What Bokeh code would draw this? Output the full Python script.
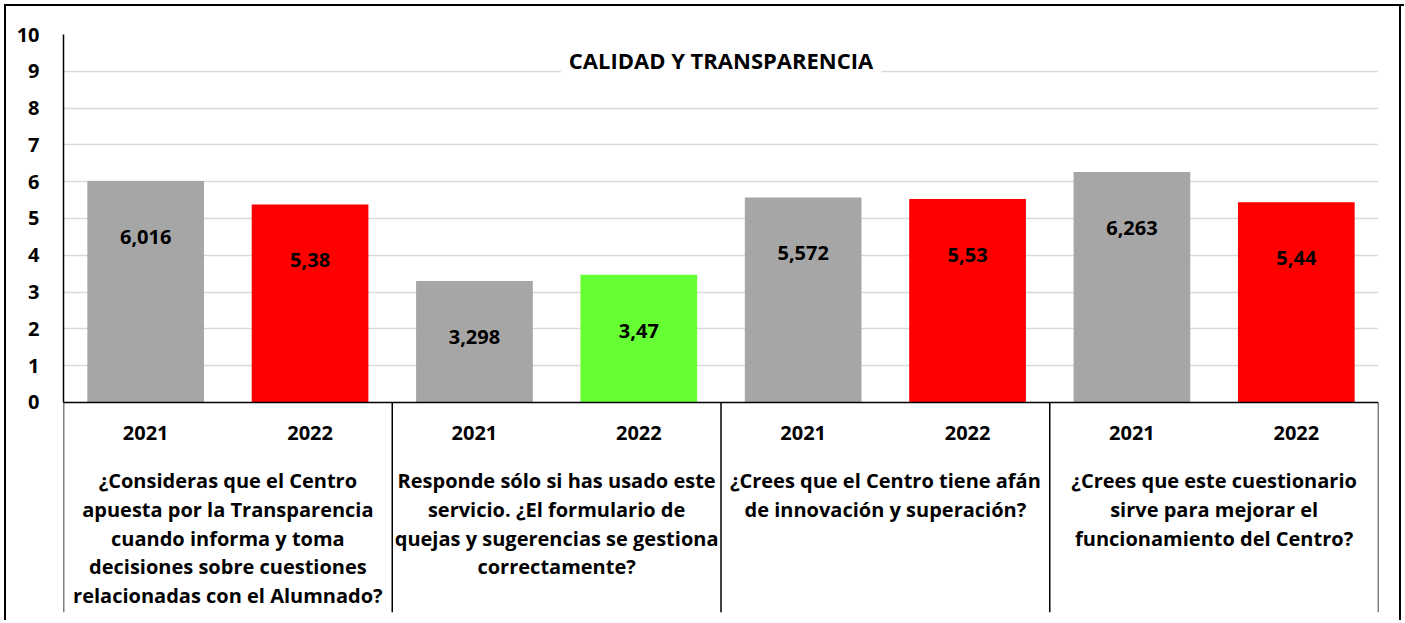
from bokeh.plotting import figure
from bokeh.models import FactorRange, Range1d, Span, Label, ColumnDataSource, FixedTicker
from bokeh.core.properties import value
from bokeh.embed import file_html
from bokeh.resources import INLINE

# ---- data ----
question_keys = ["Q1", "Q2", "Q3", "Q4"]
question_labels = [
    "¿Consideras que el Centro\napuesta por la Transparencia\ncuando informa y toma\ndecisiones sobre cuestiones\nrelacionadas con el Alumnado?",
    "Responde sólo si has usado este\nservicio. ¿El formulario de\nquejas y sugerencias se gestiona\ncorrectamente?",
    "¿Crees que el Centro tiene afán\nde innovación y superación?",
    "¿Crees que este cuestionario\nsirve para mejorar el\nfuncionamiento del Centro?",
]
years = ["2021", "2022"]
values_2021 = [6.016, 3.298, 5.572, 6.263]
values_2022 = [5.38, 3.47, 5.53, 5.44]
labels_2021 = ["6,016", "3,298", "5,572", "6,263"]
labels_2022 = ["5,38", "3,47", "5,53", "5,44"]
colors_2021 = ["#A6A6A6", "#A6A6A6", "#A6A6A6", "#A6A6A6"]
colors_2022 = ["#FF0000", "#66FF33", "#FF0000", "#FF0000"]
y_ticks = list(range(0, 11))
title_text = "CALIDAD Y TRANSPARENCIA"

FONT = "Open Sans"
FS = "20px"

factors = []
vals = []
lbls = []
cols = []
for i, q in enumerate(question_keys):
    factors += [(q, years[0]), (q, years[1])]
    vals += [values_2021[i], values_2022[i]]
    lbls += [labels_2021[i], labels_2022[i]]
    cols += [colors_2021[i], colors_2022[i]]

src = ColumnDataSource(dict(x=factors, top=vals, label=lbls, color=cols,
                            year=[f[1] for f in factors]))

x_range = FactorRange(factors=factors, factor_padding=0, group_padding=0,
                      subgroup_padding=0, range_padding=0)
y_range = Range1d(-5.71, 10)

p = figure(x_range=x_range, y_range=y_range, width=1404, height=620,
           output_backend="svg", toolbar_location=None, x_axis_location=None,
           min_border_left=63, min_border_right=26, min_border_top=34,
           min_border_bottom=8)
p.outline_line_color = None
p.background_fill_color = "white"
p.border_fill_color = None
p.styles = {"box-shadow": ("inset 4px 4px 0 0 #ffffff, inset 6px 6px 0 0 #000000, "
                           "inset -3px 0 0 0 #ffffff, inset -5px 0 0 0 #000000")}

# y axis
yax = p.yaxis[0]
yax.ticker = FixedTicker(ticks=y_ticks)
yax.bounds = (0, 10)
yax.axis_line_color = "black"
yax.axis_line_width = 1.5
yax.major_tick_line_color = None
yax.minor_tick_line_color = None
yax.major_label_standoff = 18
yax.major_label_text_font = FONT
yax.major_label_text_font_style = "bold"
yax.major_label_text_font_size = FS
yax.major_label_text_color = "black"

p.xgrid.grid_line_color = None
p.ygrid.ticker = FixedTicker(ticks=y_ticks[1:])
p.ygrid.bounds = (0, 10)
p.ygrid.grid_line_color = "#D9D9D9"
p.ygrid.grid_line_width = 1.5

# bars
p.vbar(x="x", top="top", bottom=0, width=0.71, fill_color="color",
       line_color=None, source=src)

# value labels
p.text(x="x", y="top", text="label", source=src, y_offset=56,
       text_align="center", text_baseline="middle",
       text_font=value(FONT), text_font_style="bold", text_font_size=FS,
       text_color="black")

# x axis line
p.add_layout(Span(location=0, dimension="width", line_color="black", line_width=1.5))

# separators
half = len(years) / 2
sep_x = [(q, -half) for q in question_keys] + [(question_keys[-1], half)]
sep_src = ColumnDataSource(dict(x=sep_x, y0=[0] * len(sep_x),
                                y1=[y_range.start] * len(sep_x)))
p.segment(x0="x", y0="y0", x1="x", y1="y1", source=sep_src,
          line_color="black", line_width=1.5)

# year labels
p.text(x="x", y=-0.82, text="year", source=src,
       text_align="center", text_baseline="middle",
       text_font=value(FONT), text_font_style="bold", text_font_size=FS,
       text_color="black")

# question labels
q_src = ColumnDataSource(dict(x=question_keys, text=question_labels))
p.text(x="x", y=-1.76, text="text", source=q_src,
       text_align="center", text_baseline="top", text_line_height=1.065,
       text_font=value(FONT), text_font_style="bold", text_font_size=FS,
       text_color="black")

# title
p.add_layout(Label(x=len(factors) / 2, y=9.3, text=title_text,
                   text_align="center", text_baseline="middle",
                   text_font=FONT, text_font_style="bold",
                   text_font_size="22px", text_color="black",
                   background_fill_color="white", padding=8))

open("out.html", "w").write(file_html(p, INLINE))
